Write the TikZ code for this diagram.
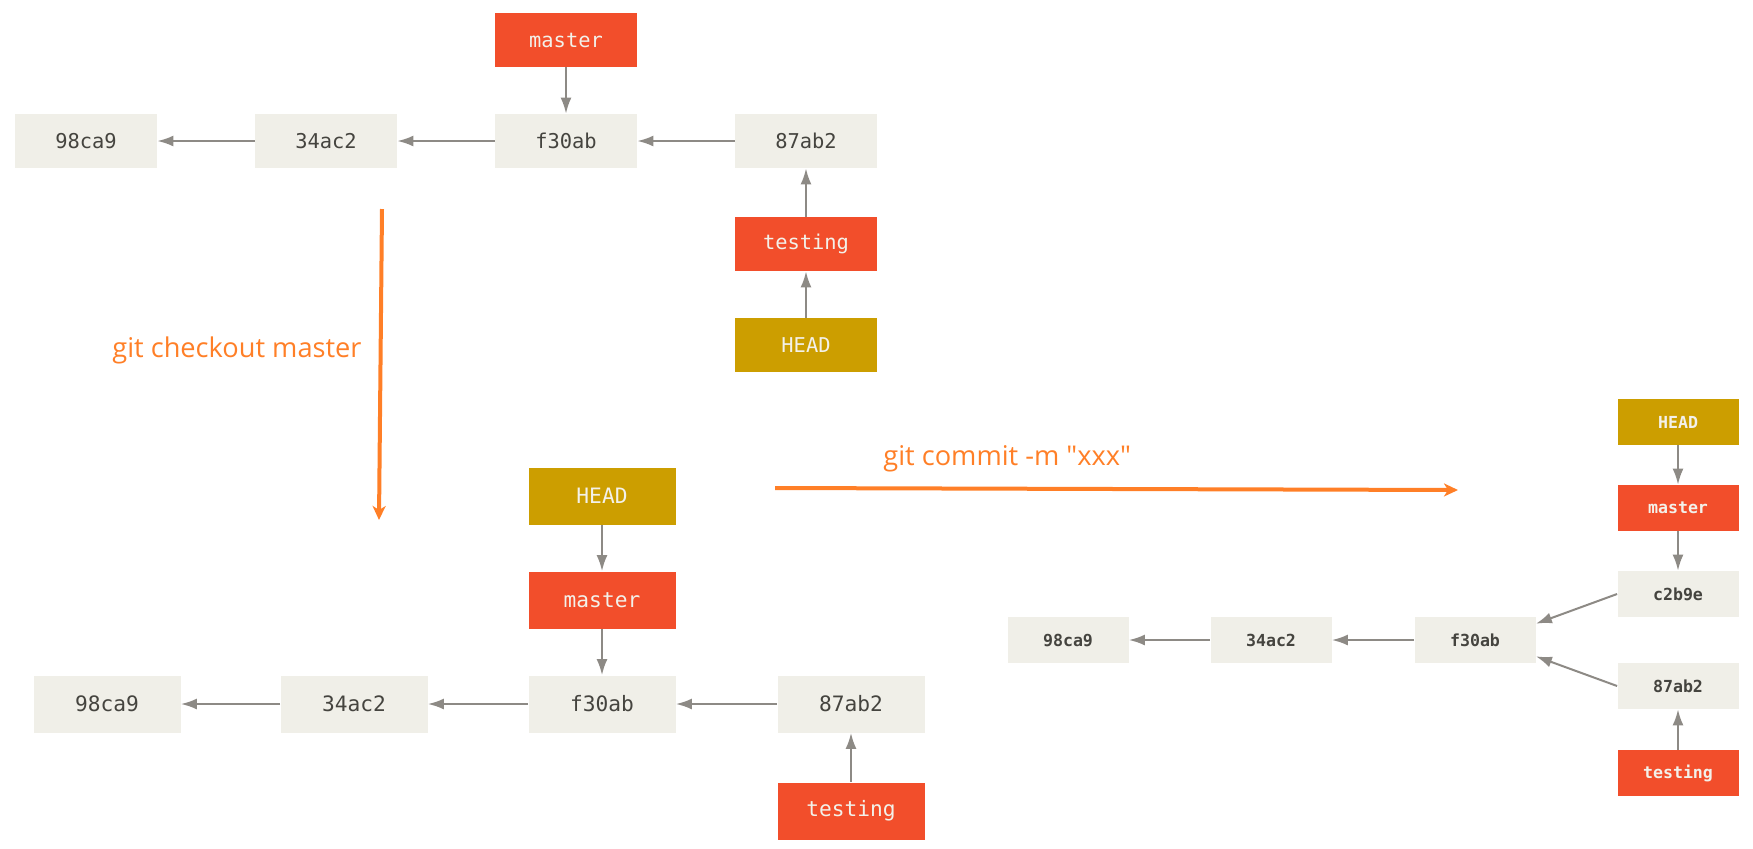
\documentclass[tikz,border=0pt]{standalone}
\usepackage{fontspec}
\setmainfont{Open Sans}
\setmonofont{DejaVu Sans Mono}
\usetikzlibrary{arrows.meta}
\definecolor{commitbg}{HTML}{F0EFE8}
\definecolor{branchred}{HTML}{F24E2B}
\definecolor{headgold}{HTML}{CC9E00}
\definecolor{linkgray}{HTML}{8D8A85}
\definecolor{cmdorange}{HTML}{FF7F27}
\definecolor{commitink}{HTML}{45443F}
\definecolor{refink}{HTML}{F3F1EA}

\begin{document}
\begin{tikzpicture}[x=0.5pt,y=-0.5pt,
  bigbox/.style={inner sep=0pt,minimum width=71pt,minimum height=27pt,
    font=\ttfamily\fontsize{10.2}{11}\selectfont},
  midbox/.style={inner sep=0pt,minimum width=73.5pt,minimum height=28.5pt,
    font=\ttfamily\fontsize{10.6}{11}\selectfont},
  smallbox/.style={inner sep=0pt,minimum width=60.5pt,minimum height=23pt,
    font=\ttfamily\bfseries\fontsize{8.3}{9}\selectfont},
  commit/.style={fill=commitbg,text=commitink},
  branch/.style={fill=branchred,text=refink},
  headref/.style={fill=headgold,text=refink},
  link/.style={draw=linkgray,line width=1pt,-{Latex[length=8pt,width=5.5pt]}},
  cmd/.style={draw=cmdorange,line width=2pt,-{Stealth[length=7pt,width=6.5pt,inset=2pt]}},
  cmdtext/.style={inner sep=0pt,text=cmdorange,font=\fontsize{13.6}{15}\selectfont}]
\useasboundingbox (0,0) rectangle (1753,848);

% before: HEAD on testing
\node (t98) [bigbox,commit] at (86,141) {98ca9};
\node (t34) [bigbox,commit] at (326,141) {34ac2};
\node (tf30) [bigbox,commit] at (566,141) {f30ab};
\node (t87) [bigbox,commit] at (806,141) {87ab2};
\node (tmaster) [bigbox,branch] at (566,40) {master};
\node (ttesting) [bigbox,branch] at (806,244) {testing};
\node (thead) [bigbox,headref] at (806,345) {HEAD};
\draw [link] (t34) -- (t98);
\draw [link] (tf30) -- (t34);
\draw [link] (t87) -- (tf30);
\draw [link] (tmaster) -- (tf30);
\draw [link] (ttesting) -- (t87);
\draw [link] (thead) -- (ttesting);

% checkout
\coordinate (chkstart) at (382,209);
\coordinate (chkend) at (379,520);
\draw [cmd] (chkstart) -- (chkend);
\node (chklabel) [cmdtext,anchor=base east] at (362,357) {git checkout master};

% after checkout: HEAD on master
\node (b98) [midbox,commit] at (107,704) {98ca9};
\node (b34) [midbox,commit] at (354,704) {34ac2};
\node (bf30) [midbox,commit] at (602,704) {f30ab};
\node (b87) [midbox,commit] at (851,704) {87ab2};
\node (bhead) [midbox,headref] at (602,496) {HEAD};
\node (bmaster) [midbox,branch] at (602,600) {master};
\node (btesting) [midbox,branch] at (851,811) {testing};
\draw [link] (b34) -- (b98);
\draw [link] (bf30) -- (b34);
\draw [link] (b87) -- (bf30);
\draw [link] (bhead) -- (bmaster);
\draw [link] (bmaster) -- (bf30);
\draw [link] (btesting) -- (b87);

% commit
\coordinate (comstart) at (775,488);
\coordinate (comend) at (1458,490);
\draw [cmd] (comstart) -- (comend);
\node (comlabel) [cmdtext,anchor=base west] at (883,465) {git commit -m \textquotedbl xxx\textquotedbl};

% after commit: branches diverge
\node (r98) [smallbox,commit] at (1068,640) {98ca9};
\node (r34) [smallbox,commit] at (1271,640) {34ac2};
\node (rf30) [smallbox,commit] at (1475,640) {f30ab};
\node (rc2) [smallbox,commit] at (1678,594) {c2b9e};
\node (r87) [smallbox,commit] at (1678,686) {87ab2};
\node (rhead) [smallbox,headref] at (1678,422) {HEAD};
\node (rmaster) [smallbox,branch] at (1678,508) {master};
\node (rtesting) [smallbox,branch] at (1678,773) {testing};
\draw [link] (r34) -- (r98);
\draw [link] (rf30) -- (r34);
\draw [link] (rc2.west) -- (rf30.15);
\draw [link] (r87.west) -- (rf30.-15);
\draw [link] (rhead) -- (rmaster);
\draw [link] (rmaster) -- (rc2);
\draw [link] (rtesting) -- (r87);
\end{tikzpicture}
\end{document}
